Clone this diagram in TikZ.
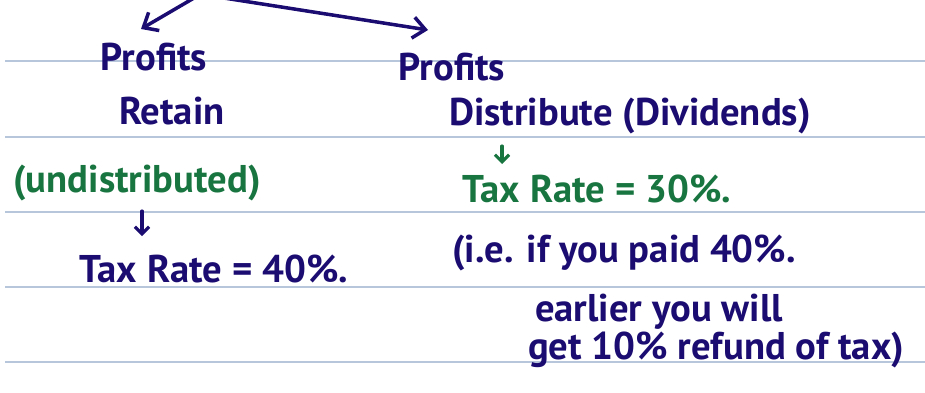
\documentclass[tikz,border=0pt]{standalone}
\usepackage{fontspec}
\setmainfont{PT Sans}
\usetikzlibrary{arrows.meta}
\definecolor{ink}{HTML}{1A0C70}
\definecolor{inkgreen}{HTML}{187540}
\definecolor{rulecol}{HTML}{B8C6DC}

\begin{document}
\begin{tikzpicture}[x=0.02cm,y=-0.02cm,
  hand/.style={anchor=base,inner sep=0pt,font=\fontsize{22}{26}\selectfont\bfseries},
  pen/.style={line width=2pt,line cap=round,-{Straight Barb[length=7pt,width=12pt]}},
  tick/.style={line width=1.8pt,line cap=round,-{Straight Barb[length=4pt,width=8pt]}}]
\useasboundingbox (0,0) rectangle (925,392);
\foreach \y in {61,137,212,287,362}
  \draw[rulecol,line width=0.8pt] (5,\y) -- (925,\y);

\node[hand,ink] (profL) at (154,70) {Profits};
\node[hand,ink] (retain) at (172,124) {Retain};
\node[hand,inkgreen] (undist) at (137,192) {(undistributed)};
\node[hand,ink] (taxL) at (214,282) {Tax Rate = 40\%.};

\node[hand,ink] (profR) at (452,80) {Profits};
\node[hand,ink] (distr) at (630,125) {Distribute (Dividends)};
\node[hand,inkgreen] (taxR) at (597,202) {Tax Rate = 30\%.};
\node[hand,ink] (ie) at (624,262) {(i.e. if you paid 40\%.};
\node[hand,ink] (earlier) at (659,321) {earlier you will};
\node[hand,ink] (refund) at (716,359) {get 10\% refund of tax)};

\coordinate (srcL) at (194,-2);
\coordinate (srcR) at (224,-2);
\coordinate (tipL) at (141,29);
\coordinate (tipR) at (428,30);
\draw[pen,ink] (srcL) -- (tipL);
\draw[pen,ink] (srcR) -- (tipR);

\coordinate (b1) at (142,211);
\coordinate (b2) at (142,236);
\coordinate (g1) at (502,146);
\coordinate (g2) at (502,164);
\draw[tick,ink] (b1) -- (b2);
\draw[tick,inkgreen] (g1) -- (g2);
\end{tikzpicture}
\end{document}
